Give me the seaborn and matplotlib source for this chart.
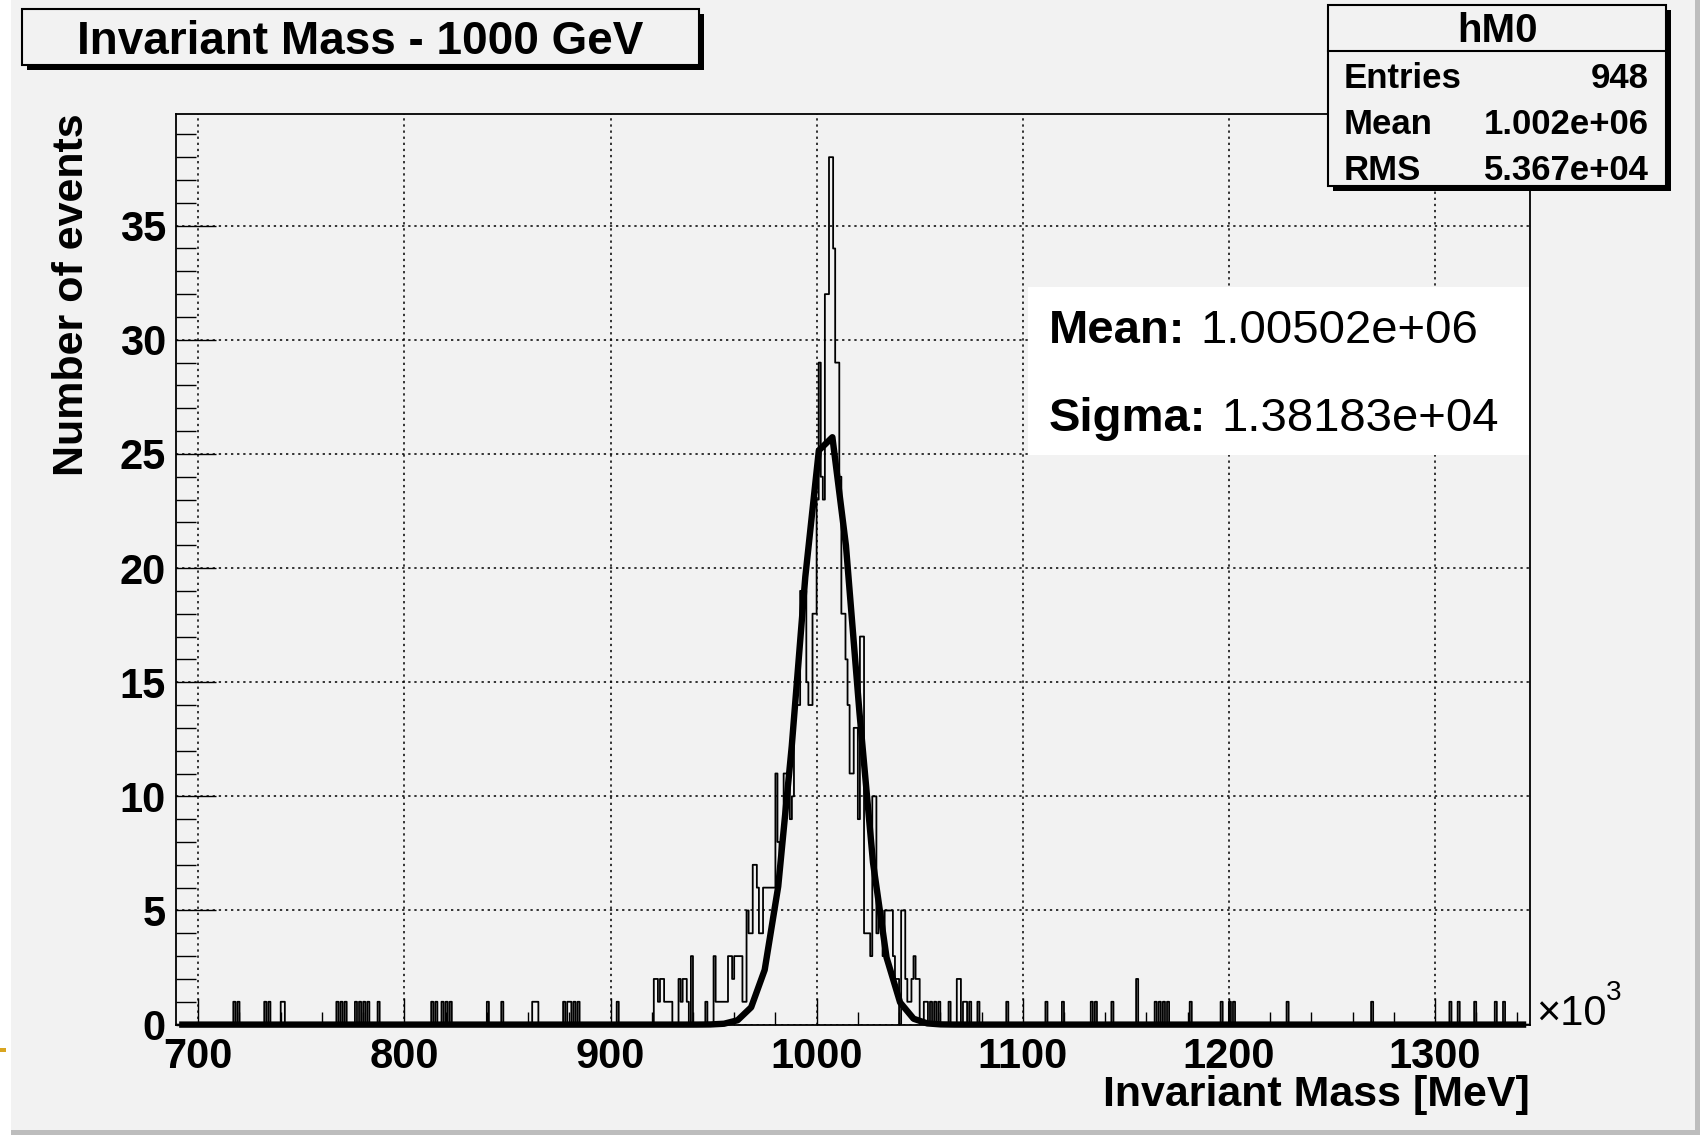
import numpy as np
import pandas as pd
import matplotlib
matplotlib.use("Agg")
import matplotlib.pyplot as plt
from matplotlib.patches import Rectangle
from matplotlib.lines import Line2D
import seaborn as sns

# x axis in units of 10^3 MeV, bins 1 unit wide
x_lo, x_hi = 689, 1346

# single entries in the far tails (lower bin edge, repeated = 2 counts)
left_tail = [717, 719, 732, 734, 740, 741, 767, 769, 771, 776, 778, 780, 782, 787,
             813, 815, 818, 820, 822, 840, 847, 862, 863, 864, 877, 879, 880, 882, 884, 903]
right_tail = [1064, 1068, 1068, 1069, 1069, 1071, 1072, 1074, 1078, 1092, 1111, 1119,
              1133, 1135, 1143, 1155, 1155, 1164, 1166, 1168, 1170, 1181, 1196, 1200,
              1202, 1228, 1269, 1307, 1311, 1319, 1329, 1333]

# bins 921..949
rise_start = 921
rise_counts = [2, 2, 1, 2, 2, 1, 1, 1, 1, 0, 0, 0, 2, 1, 2, 2, 1, 0, 3, 0,
               0, 0, 0, 0, 0, 1, 0, 0, 0]

# bins 950..1059
peak_start = 950
peak_counts = [3, 1, 1, 1, 1, 1, 1, 3, 3, 2,
               3, 3, 3, 3, 1, 1, 5, 4, 4, 7,
               7, 6, 4, 4, 6, 6, 6, 6, 6, 6,
               11, 8, 7, 8, 11, 11, 11, 9, 10, 14,
               14, 14, 19, 19, 19, 15, 14, 14, 18, 18,
               23, 29, 24, 23, 32, 32, 38, 38, 34, 29,
               29, 24, 18, 18, 16, 14, 11, 11, 13, 13,
               9, 17, 17, 4, 4, 4, 3, 10, 10, 4,
               5, 5, 3, 5, 5, 5, 5, 3, 2, 2,
               0, 5, 5, 2, 1, 1, 2, 3, 2, 2,
               0, 0, 1, 1, 0, 1, 0, 1, 0, 1]

# gaussian fit
fit_const = 26.2
fit_mean = 1005.02
fit_sigma = 13.8183

stats_rows = [("Entries", "948"), ("Mean", "1.002e+06"), ("RMS", "5.367e+04")]

counts = np.zeros(x_hi - x_lo)
for b in left_tail + right_tail:
    counts[b - x_lo] += 1
counts[rise_start - x_lo:rise_start - x_lo + len(rise_counts)] += rise_counts
counts[peak_start - x_lo:peak_start - x_lo + len(peak_counts)] += peak_counts
edges = list(range(x_lo, x_hi + 1))
df = pd.DataFrame({"mass": np.arange(x_lo, x_hi) + 0.5, "events": counts})

xf = x_lo + (np.arange(100) + 0.5) * (x_hi - x_lo) / 100
yf = fit_const * np.exp(-0.5 * ((xf - fit_mean) / fit_sigma) ** 2)

plt.rcParams["font.family"] = ["Liberation Sans", "DejaVu Sans"]
bg = "#f2f2f2"
W, H = 1700, 1135

fig = plt.figure(figsize=(17, 11.35), dpi=100)
fig.patch.set_facecolor("white")


def fx(px):
    return px / W


def fy(py):
    return 1 - py / H


def box(x0, y0, x1, y1, **kw):
    fig.add_artist(Rectangle((fx(x0), fy(y1)), fx(x1) - fx(x0), fy(y0) - fy(y1),
                             transform=fig.transFigure, **kw))


# canvas
box(11, 0, 1695, 1130, facecolor=bg, edgecolor="none", zorder=-10)
box(1695, 0, 1700, 1135, facecolor="#bdbdbd", edgecolor="none", zorder=-9)
box(11, 1130, 1700, 1135, facecolor="#bdbdbd", edgecolor="none", zorder=-9)
box(0, 1048, 6, 1052, facecolor="#d9a520", edgecolor="none", zorder=-9)

ax = fig.add_axes([fx(175.6), fy(1024.6), fx(1529.8) - fx(175.6), fy(113.8) - fy(1024.6)])
ax.set_facecolor(bg)

sns.histplot(data=df, x="mass", weights="events", bins=edges, element="step",
             fill=False, color="black", linewidth=1.3, ax=ax)
sns.lineplot(x=xf, y=yf, color="black", linewidth=4.6, ax=ax)
ax.lines[-1].set_clip_on(False)
ax.lines[-1].set_solid_joinstyle("round")

ax.set_xlim(x_lo, x_hi)
ax.set_ylim(0, 39.9)
ax.set_xticks(np.arange(700, 1301, 100))
ax.set_xticks(np.arange(700, 1346, 20), minor=True)
ax.set_yticks(np.arange(0, 36, 5))
ax.set_yticks(np.arange(0, 40, 1), minor=True)
ax.set_xlabel("")
ax.set_ylabel("")
ax.grid(True, which="major", color="black", linestyle=(0, (1.5, 2.5)), linewidth=1.1)
ax.set_axisbelow(True)

ax.tick_params(axis="x", which="major", direction="in", length=19.4, width=1, pad=9, labelsize=30)
ax.tick_params(axis="x", which="minor", direction="in", length=9.7, width=1)
ax.tick_params(axis="y", which="major", direction="in", length=28.8, width=1, pad=7, labelsize=30)
ax.tick_params(axis="y", which="minor", direction="in", length=14.4, width=1)
for lab in ax.get_xticklabels() + ax.get_yticklabels():
    lab.set_fontweight("bold")
for sp in ax.spines.values():
    sp.set_linewidth(1.3)

# axis titles
fig.text(fx(1529.8), fy(1095), "Invariant Mass [MeV]", ha="right", va="center",
         fontsize=31, fontweight="bold")
fig.text(fx(72), fy(113.8), "Number of events", rotation=90, ha="center", va="top",
         fontsize=31, fontweight="bold")
fig.text(fx(1536), fy(1024.6), "\u00d710", ha="left", va="baseline", fontsize=30)
fig.text(fx(1606), fy(1000), "3", ha="left", va="baseline", fontsize=20)

# title box
box(27, 14, 704, 70, facecolor="black", edgecolor="none", zorder=5)
box(22, 9, 699, 65, facecolor=bg, edgecolor="black", linewidth=1.5, zorder=6)
fig.text(fx(360), fy(42), "Invariant Mass - 1000 GeV", ha="center", va="center",
         fontsize=33, fontweight="bold", zorder=7)

# stats box
box(1333, 10, 1671, 191, facecolor="black", edgecolor="none", zorder=5)
box(1328, 5, 1666, 186, facecolor=bg, edgecolor="black", linewidth=1.5, zorder=6)
fig.add_artist(Line2D([fx(1328), fx(1666)], [fy(51), fy(51)], transform=fig.transFigure,
                      color="black", linewidth=1.5, zorder=7))
fig.text(fx(1497), fy(31), "hM0", ha="center", va="center", fontsize=29,
         fontweight="bold", zorder=7)
for i, (k, v) in enumerate(stats_rows):
    yy = fy(78 + 46 * i)
    fig.text(fx(1344), yy, k, ha="left", va="center", fontsize=25, fontweight="bold", zorder=7)
    fig.text(fx(1649), yy, v, ha="right", va="center", fontsize=25, fontweight="bold", zorder=7)

# fit result box
box(1028, 287, 1529, 455, facecolor="white", edgecolor="none", zorder=5)
renderer = fig.canvas.get_renderer()
for i, (k, v) in enumerate([("Mean:", "%.5e" % (fit_mean * 1000)),
                            ("Sigma:", "%.5e" % (fit_sigma * 1000))]):
    yy = fy(331 + 88 * i)
    t = fig.text(fx(1049), yy, k, ha="left", va="center", fontsize=34,
                 fontweight="bold", zorder=7)
    bb = t.get_window_extent(renderer=renderer)
    fig.text(fx(bb.x1 + 15), yy, v, ha="left", va="center", fontsize=34, zorder=7)

fig.savefig("out.png", dpi=100, facecolor=fig.get_facecolor())
